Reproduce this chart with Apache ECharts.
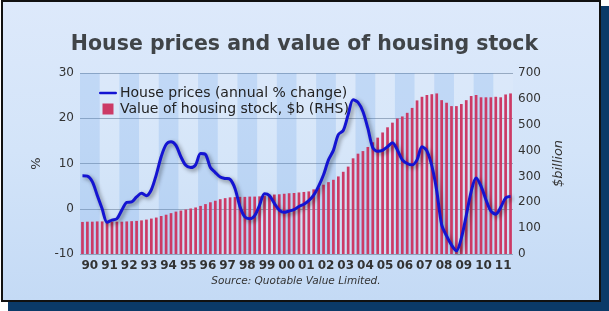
<!DOCTYPE html>
<html>
<head>
<meta charset="utf-8">
<script src="https://cdn.jsdelivr.net/npm/echarts@6/dist/echarts.min.js"></script>
<style>
    html, body { margin: 0; padding: 0; background: #fff; }
    #shadow { position: absolute; left: 8px; top: 6px; width: 601px; height: 305px; background: #0b3a68; }
    #frame {
        position: absolute; left: 1px; top: 0; width: 596px; height: 298px;
        border: 2px solid #111;
        background: linear-gradient(to bottom, #dde9fb 0%, #d3e4f9 50%, #c4daf5 100%);
    }
    #chart { position: absolute; left: 0; top: 0; width: 609px; height: 311px; }
</style>
</head>
<body>
<div id="shadow"></div>
<div id="frame"></div>
<div id="chart"></div>
<script>
// years shown on the axis
var years = ['90', '91', '92', '93', '94', '95', '96', '97', '98', '99', '00',
    '01', '02', '03', '04', '05', '06', '07', '08', '09', '10', '11'];

// house prices, annual % change (quarterly, 1990 Q1 - 2011 Q4)
var housePrices = [
    7.3, 7.2, 6.0, 3.0, 0.0, -3.0, -2.5, -2.2, -0.3, 1.4, 1.5, 2.6,
    3.4, 2.9, 4.2, 7.5, 11.5, 14.2, 14.8, 14.0, 11.5, 9.6, 9.1, 9.7,
    12.2, 12.0, 9.1, 8.0, 7.0, 6.7, 6.5, 4.5, 0.5, -1.8, -2.2, -1.5,
    0.8, 3.3, 2.9, 1.2, -0.3, -0.8, -0.5, -0.2, 0.5, 1.0, 1.8, 3.0,
    5.0, 7.5, 10.8, 12.9, 16.4, 17.3, 20.8, 24.1, 23.5, 21.5, 17.8, 13.5,
    12.7, 12.9, 13.7, 14.6, 13.0, 10.8, 10.0, 9.7, 10.8, 13.7, 12.8, 9.5,
    4.0, -3.5, -6.0, -8.0, -9.3, -6.5, -1.5, 3.8, 6.8, 5.0, 2.0, -0.5,
    -1.2, 0.3, 2.4, 2.7
];

// value of housing stock, $b (right hand scale)
var stockValue = [
    124, 125, 125, 126, 126, 126, 125, 125, 125, 126, 127, 128,
    130, 133, 137, 141, 147, 152, 158, 164, 168, 172, 176, 180,
    186, 193, 200, 206, 212, 216, 219, 220, 221, 221, 222, 222,
    223, 225, 228, 230, 231, 233, 235, 236, 238, 240, 242, 250,
    258, 268, 278, 287, 300, 318, 338, 370, 388, 398, 414, 432,
    450, 470, 490, 508, 524, 532, 546, 565, 594, 608, 615, 618,
    621, 595, 585, 572, 572, 580, 595, 611, 615, 606, 606, 606,
    608, 606, 617, 621
];

// one category per quarter
var quarters = [];
years.forEach(function (y) {
    for (var q = 1; q <= 4; q++) {
        quarters.push(y + 'Q' + q);
    }
});

var font = 'DejaVu Sans';
var chart = echarts.init(document.getElementById('chart'), null, {renderer: 'canvas'});

chart.setOption({
    animation: false,
    title: {
        text: 'House prices and value of housing stock',
        left: 'center',
        top: 29,
        textStyle: {
            fontFamily: font,
            fontSize: 20.5,
            fontWeight: 'bold',
            color: '#404448'
        }
    },
    legend: {
        orient: 'vertical',
        left: 94,
        top: 81,
        itemGap: 2,
        itemWidth: 18,
        itemHeight: 11,
        itemGap: 2,
        textStyle: {fontFamily: font, fontSize: 14, color: '#222', padding: [0, 0, 0, -2]},
        data: [
            {name: 'House prices (annual % change)', icon: 'path://M1.2,0H16.8A1.2,1.2,0,0,1,16.8,2.6H1.2A1.2,1.2,0,0,1,1.2,0Z'},
            {name: 'Value of housing stock, $b (RHS)', icon: 'path://M0,0H10V10H0Z'}
        ]
    },
    grid: {
        left: 80,
        right: 96,
        top: 73,
        bottom: 57
    },
    xAxis: [{
        type: 'category',
        data: quarters,
        axisLine: {show: false},
        axisTick: {show: false},
        axisLabel: {show: false}
    }, {
        type: 'category',
        position: 'bottom',
        data: years,
        axisLine: {show: false},
        axisTick: {show: false},
        axisLabel: {
            interval: 0,
            margin: 6,
            fontFamily: font,
            fontSize: 12,
            fontWeight: 'bold',
            color: '#333'
        },
        splitArea: {
            show: true,
            interval: 0,
            areaStyle: {color: ['rgba(120,170,235,0.24)', 'rgba(255,255,255,0.08)']}
        }
    }],
    yAxis: [{
        type: 'value',
        min: -10,
        max: 30,
        interval: 10,
        name: '%',
        nameLocation: 'middle',
        nameRotate: 90,
        nameGap: 27,
        nameTextStyle: {fontFamily: font, fontSize: 13, color: '#333'},
        axisLine: {show: false},
        axisTick: {show: false},
        axisLabel: {fontFamily: font, fontSize: 12, color: '#333', margin: 6},
        splitLine: {lineStyle: {color: '#8fa3bd', width: 1}}
    }, {
        type: 'value',
        min: 0,
        max: 700,
        interval: 100,
        name: '$billion',
        nameLocation: 'middle',
        nameRotate: 90,
        nameGap: 37,
        nameTextStyle: {fontFamily: font, fontSize: 13, fontStyle: 'italic', color: '#333'},
        axisLine: {show: false},
        axisTick: {show: false},
        axisLabel: {fontFamily: font, fontSize: 12, color: '#333', margin: 5},
        splitLine: {show: false}
    }],
    graphic: [{
        type: 'text',
        x: 296,
        y: 276,
        style: {
            text: 'Source: Quotable Value Limited.',
            align: 'center',
            fontFamily: font,
            fontSize: 10.5,
            fontStyle: 'italic',
            fill: '#333'
        }
    }],
    series: [{
        name: 'Value of housing stock, $b (RHS)',
        type: 'bar',
        xAxisIndex: 0,
        yAxisIndex: 1,
        barWidth: '55%',
        itemStyle: {color: '#cc3a66'},
        data: stockValue,
        z: 2
    }, {
        name: 'House prices (annual % change)',
        type: 'line',
        xAxisIndex: 0,
        yAxisIndex: 0,
        smooth: 0.3,
        symbol: 'none',
        lineStyle: {
            color: '#1414d2',
            width: 3,
            shadowColor: 'rgba(0,0,0,0.45)',
            shadowBlur: 4,
            shadowOffsetX: 2,
            shadowOffsetY: 2
        },
        itemStyle: {color: '#1414d2'},
        data: housePrices,
        z: 3
    }]
});

window.addEventListener('resize', function () {
    chart.resize();
});
</script>
</body>
</html>
